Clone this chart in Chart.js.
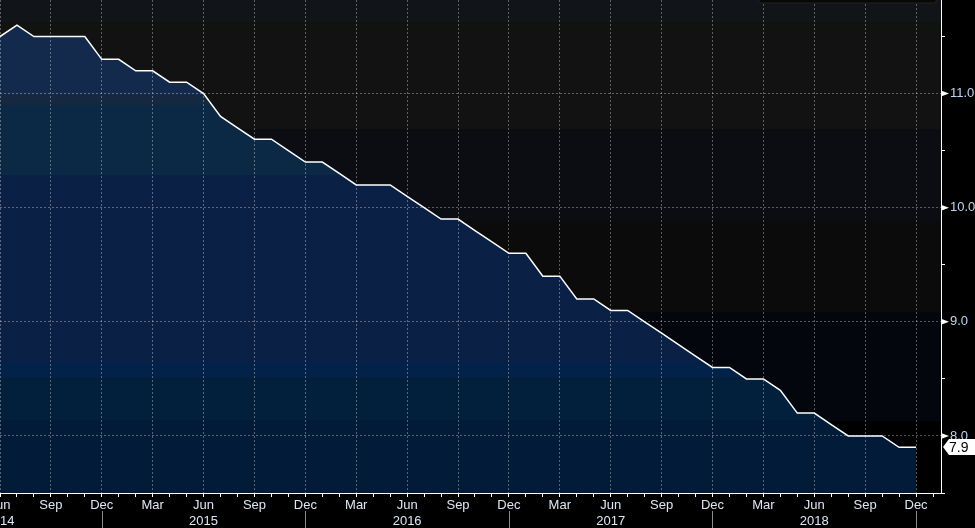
<!DOCTYPE html>
<html><head><meta charset="utf-8">
<script src="https://cdn.jsdelivr.net/npm/chart.js@4/dist/chart.umd.min.js"></script>
<style>html,body{margin:0;padding:0;background:#000;overflow:hidden}#wrap{width:975px;height:528px}</style>
</head><body><div id="wrap"><canvas id="c" width="975" height="528"></canvas></div>
<script>
// ---- data ----
const months = [
 'Jun','Jul','Aug','Sep','Oct','Nov','Dec',
 'Jan','Feb','Mar','Apr','May','Jun','Jul','Aug','Sep','Oct','Nov','Dec',
 'Jan','Feb','Mar','Apr','May','Jun','Jul','Aug','Sep','Oct','Nov','Dec',
 'Jan','Feb','Mar','Apr','May','Jun','Jul','Aug','Sep','Oct','Nov','Dec',
 'Jan','Feb','Mar','Apr','May','Jun','Jul','Aug','Sep','Oct','Nov','Dec','Jan'];
const years = [
 2014,2014,2014,2014,2014,2014,2014,
 2015,2015,2015,2015,2015,2015,2015,2015,2015,2015,2015,2015,
 2016,2016,2016,2016,2016,2016,2016,2016,2016,2016,2016,2016,
 2017,2017,2017,2017,2017,2017,2017,2017,2017,2017,2017,2017,
 2018,2018,2018,2018,2018,2018,2018,2018,2018,2018,2018,2018,2019];
const values = [
 11.5,11.6,11.5,11.5,11.5,11.5,11.3,
 11.3,11.2,11.2,11.1,11.1,11.0,10.8,10.7,10.6,10.6,10.5,10.4,
 10.4,10.3,10.2,10.2,10.2,10.1,10.0,9.9,9.9,9.8,9.7,9.6,
 9.6,9.4,9.4,9.2,9.2,9.1,9.1,9.0,8.9,8.8,8.7,8.6,
 8.6,8.5,8.5,8.4,8.2,8.2,8.1,8.0,8.0,8.0,7.9,7.9];
const yTickValues = [7.5,8,8.5,9,9.5,10,10.5,11,11.5];
const quarterMonths = ['Mar','Jun','Sep','Dec'];

const points = values.map((v,i)=>({x:i,y:v}));

const FONT = {family:'Liberation Sans', size:13};
const GRID = 'rgba(255,255,255,0.33)';

const bgBands = [ // [from px, to px, color] inside plot area (above-line background)
 [0,22,'#111419'],[22,35,'#10130f'],[35,129,'#121212'],[129,221,'#0b0d12'],
 [221,312,'#0b0b0b'],[312,421,'#03060c'],[421,600,'#000000']];
const fillBands = [
 [0,95,'#132a4c'],[95,105,'#14283f'],[105,175,'#0b2945'],[175,362,'#0b2045'],
 [362,377,'#03224a'],[377,420,'#02203b'],[420,600,'#021b38']];

function fillGradient(c){
  const chart = c.chart, a = chart.chartArea;
  if(!a) return '#0b1f45';
  const h = a.bottom - a.top;
  const g = chart.ctx.createLinearGradient(0,a.top,0,a.bottom);
  fillBands.forEach(([y0,y1,col])=>{
    const f0 = Math.min(1,y0/h), f1 = Math.min(1,y1/h);
    g.addColorStop(f0,col); g.addColorStop(Math.max(f0,f1-0.0001),col);
  });
  return g;
}

const decor = {
  id:'decor',
  beforeDraw(chart){
    const {ctx, chartArea:a} = chart;
    ctx.save();
    ctx.fillStyle='#000'; ctx.fillRect(0,0,chart.width,chart.height);
    bgBands.forEach(([y0,y1,col])=>{
      const t=a.top+y0, b=Math.min(a.bottom,a.top+y1);
      if(b>t){ctx.fillStyle=col; ctx.fillRect(a.left,t,a.right-a.left,b-t);}
    });
    ctx.restore();
  },
  afterDraw(chart){
    const {ctx, chartArea:a} = chart;
    const xs = chart.scales.x, ys = chart.scales.y;
    ctx.save();
    // legend remnant box at top
    ctx.fillStyle='#080808'; ctx.strokeStyle='#232323'; ctx.lineWidth=1;
    ctx.beginPath(); ctx.roundRect(758.5,-6,178,9,3); ctx.fill(); ctx.stroke();
    // year separators
    ctx.strokeStyle='#8a8a8a'; ctx.lineWidth=1;
    months.forEach((m,i)=>{
      if(m==='Dec' && i<values.length){
        const x=Math.round(xs.getPixelForValue(i))+0.5;
        ctx.beginPath(); ctx.moveTo(x,a.bottom+18); ctx.lineTo(x,chart.height); ctx.stroke();
      }
    });
    // triangles at integer y ticks
    ctx.fillStyle='#ffffff';
    yTickValues.forEach(v=>{
      if(Number.isInteger(v)){
        const y=ys.getPixelForValue(v);
        ctx.beginPath(); ctx.moveTo(a.right,y-3); ctx.lineTo(a.right+8,y); ctx.lineTo(a.right,y+3); ctx.closePath(); ctx.fill();
      }
    });
    // last value tag
    const last = values[values.length-1];
    const ty = Math.round(ys.getPixelForValue(last));
    const x0 = a.right+2;
    ctx.fillStyle='#ffffff';
    ctx.beginPath();
    ctx.moveTo(x0,ty); ctx.lineTo(x0+6,ty-8); ctx.lineTo(chart.width,ty-8);
    ctx.lineTo(chart.width,ty+8); ctx.lineTo(x0+6,ty+8); ctx.closePath(); ctx.fill();
    ctx.fillStyle='#000'; ctx.font='14px "Liberation Sans"'; ctx.textBaseline='middle'; ctx.textAlign='left';
    ctx.fillText(last.toFixed(1), x0+6, ty+1);
    ctx.restore();
  }
};

new Chart(document.getElementById('c'),{
  type:'line',
  data:{datasets:[{
    data:points, borderColor:'#ffffff', borderWidth:1.5, pointRadius:0,
    tension:0, fill:'start', backgroundColor:fillGradient
  }]},
  options:{
    responsive:false, animation:false, devicePixelRatio:1,
    layout:{padding:0},
    plugins:{legend:{display:false},tooltip:{enabled:false}},
    scales:{
      x:{
        type:'linear', min:0, max:55.47, position:'bottom',
        afterBuildTicks:s=>{ s.ticks = months.map((m,i)=>({value:i})); },
        ticks:{
          autoSkip:false, maxRotation:0, minRotation:0, color:'#dde6f0', font:FONT, padding:1,
          lineHeight:1.15,
          callback:(v)=>{
            const m = months[v];
            if(!quarterMonths.includes(m)) return '';
            return m==='Jun' ? [m, String(years[v])] : m;
          }
        },
        grid:{
          z:1,
          color:c=> (c.tick && quarterMonths.includes(months[c.tick.value])) ? GRID : 'rgba(0,0,0,0)',
          tickColor:'#ffffff', tickLength:4, lineWidth:1, drawTicks:true
        },
        border:{display:true,color:'#ffffff',width:1,dash:[2,2],z:2},
        afterFit:s=>{ s.height=35; s.paddingLeft=0; s.paddingRight=0; }
      },
      y:{
        type:'linear', position:'right', min:7.5, max:11.82,
        afterBuildTicks:s=>{ s.ticks = yTickValues.map(v=>({value:v})); },
        ticks:{
          color:'#bcd6f2', font:{family:'Liberation Sans', size:13}, padding:5,
          callback:v=> Number.isInteger(v) ? v.toFixed(1) : ''
        },
        grid:{
          z:1,
          color:c=> (c.tick && Number.isInteger(c.tick.value)) ? GRID : 'rgba(0,0,0,0)',
          tickColor:c=> (c.tick && Number.isInteger(c.tick.value)) ? 'rgba(0,0,0,0)' : '#ffffff',
          tickLength:4, lineWidth:1
        },
        border:{display:true,color:'#ffffff',width:1,dash:[2,2],z:2},
        afterFit:s=>{ s.width=34; s.paddingTop=0; s.paddingBottom=0; }
      }
    }
  },
  plugins:[decor]
});
</script>
</body></html>
